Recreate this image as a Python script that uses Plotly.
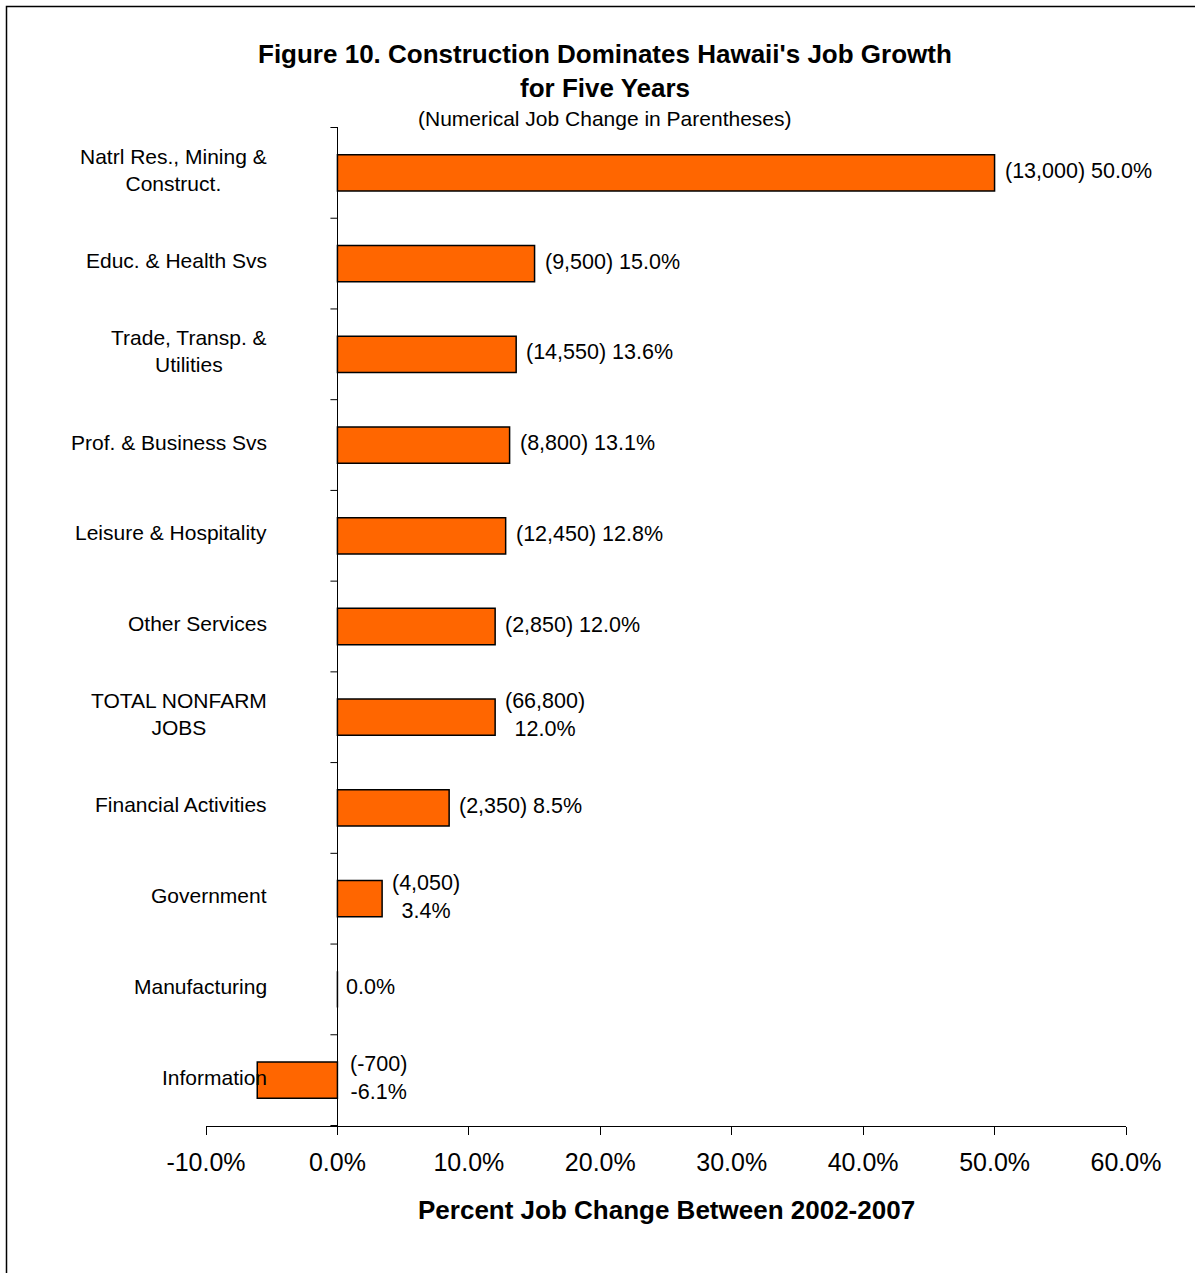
import plotly.graph_objects as go

categories = ["Natrl Res., Mining &<br>Construct.", "Educ. & Health Svs", "Trade, Transp. &<br>Utilities",
              "Prof. & Business Svs", "Leisure & Hospitality", "Other Services", "TOTAL NONFARM<br>JOBS",
              "Financial Activities", "Government", "Manufacturing", "Information"]
pct_change = [50.0, 15.0, 13.6, 13.1, 12.8, 12.0, 12.0, 8.5, 3.4, 0.0, -6.1]
job_change = [13000, 9500, 14550, 8800, 12450, 2850, 66800, 2350, 4050, None, -700]
label_wrap = [False, False, False, False, False, False, True, False, True, False, True]
x_ticks = [-10, 0, 10, 20, 30, 40, 50, 60]
x_ticktext = [f"{v:.1f}%" for v in x_ticks]

FONT = "Liberation Sans, Arial, sans-serif"
W, H = 1195, 1273
L, R, T, B = 206, 69, 127, 147
PW, PH = W - L - R, H - T - B

def px_x(px):
    return (px - L) / PW

def px_y(py):
    return (H - B - py) / PH

fig = go.Figure()
fig.add_trace(go.Bar(
    y=categories, x=pct_change, orientation="h", width=0.4,
    marker=dict(color="#FF6600", line=dict(color="black", width=1.5)),
    hoverinfo="skip", showlegend=False,
))

annotations = []
for cat, p, j, wrap in zip(categories, pct_change, job_change, label_wrap):
    if j is None:
        txt = f"{p:.1f}%"
    else:
        sep = "<br>" if wrap else " "
        txt = f"({j:,}){sep}{p:.1f}%"
    annotations.append(dict(
        x=max(p, 0), y=cat, xref="x", yref="y", text=txt, showarrow=False,
        xanchor="left", yanchor="middle", xshift=(8 if p > 0 else (7 if p == 0 else 11)),
        yshift=2, align="center",
        font=dict(family=FONT, size=21.5, color="black"),
    ))
    annotations.append(dict(
        x=0, y=cat, xref="x", yref="y", text=cat, showarrow=False,
        xanchor="right", yanchor="middle", xshift=-68, yshift=3, align="center",
        font=dict(family=FONT, size=21, color="black"),
    ))

annotations += [
    dict(x=px_x(605), y=px_y(54), xref="paper", yref="paper", showarrow=False,
         text="<b>Figure 10. Construction Dominates Hawaii's Job Growth</b>",
         xanchor="center", yanchor="middle", font=dict(family=FONT, size=26, color="black")),
    dict(x=px_x(605), y=px_y(88), xref="paper", yref="paper", showarrow=False,
         text="<b>for Five Years</b>",
         xanchor="center", yanchor="middle", font=dict(family=FONT, size=26, color="black")),
    dict(x=px_x(605), y=px_y(119), xref="paper", yref="paper", showarrow=False,
         text="(Numerical Job Change in Parentheses)",
         xanchor="center", yanchor="middle", font=dict(family=FONT, size=21, color="black")),
    dict(x=0.5, y=px_y(1210), xref="paper", yref="paper", showarrow=False,
         text="<b>Percent Job Change Between 2002-2007</b>",
         xanchor="center", yanchor="middle", font=dict(family=FONT, size=26, color="black")),
]

shapes = []
for i in range(len(categories) + 1):
    shapes.append(dict(type="line", xref="x", yref="y", xsizemode="pixel", xanchor=0,
                       x0=-7, x1=0, y0=i - 0.5, y1=i - 0.5,
                       line=dict(color="black", width=1)))
shapes.append(dict(type="rect", xref="paper", yref="paper",
                   x0=px_x(6.5), x1=px_x(1300), y0=px_y(6.5), y1=px_y(1400),
                   line=dict(color="black", width=1.5), fillcolor="rgba(0,0,0,0)"))

fig.update_layout(
    width=W, height=H,
    margin=dict(l=L, r=R, t=T, b=B),
    paper_bgcolor="white", plot_bgcolor="white",
    font=dict(family=FONT, color="black"),
    annotations=annotations, shapes=shapes,
    xaxis=dict(range=[-10, 60], tickvals=x_ticks, ticktext=x_ticktext,
               ticks="outside", ticklen=8, tickcolor="black", tickwidth=1,
               ticklabelstandoff=6,
               showline=True, linecolor="black", linewidth=1,
               showgrid=False, zeroline=True, zerolinecolor="black", zerolinewidth=1,
               tickfont=dict(family=FONT, size=25, color="black")),
    yaxis=dict(autorange="reversed", showticklabels=False, showgrid=False,
               showline=False, zeroline=False, ticks=""),
)

fig.write_html("out.html")
